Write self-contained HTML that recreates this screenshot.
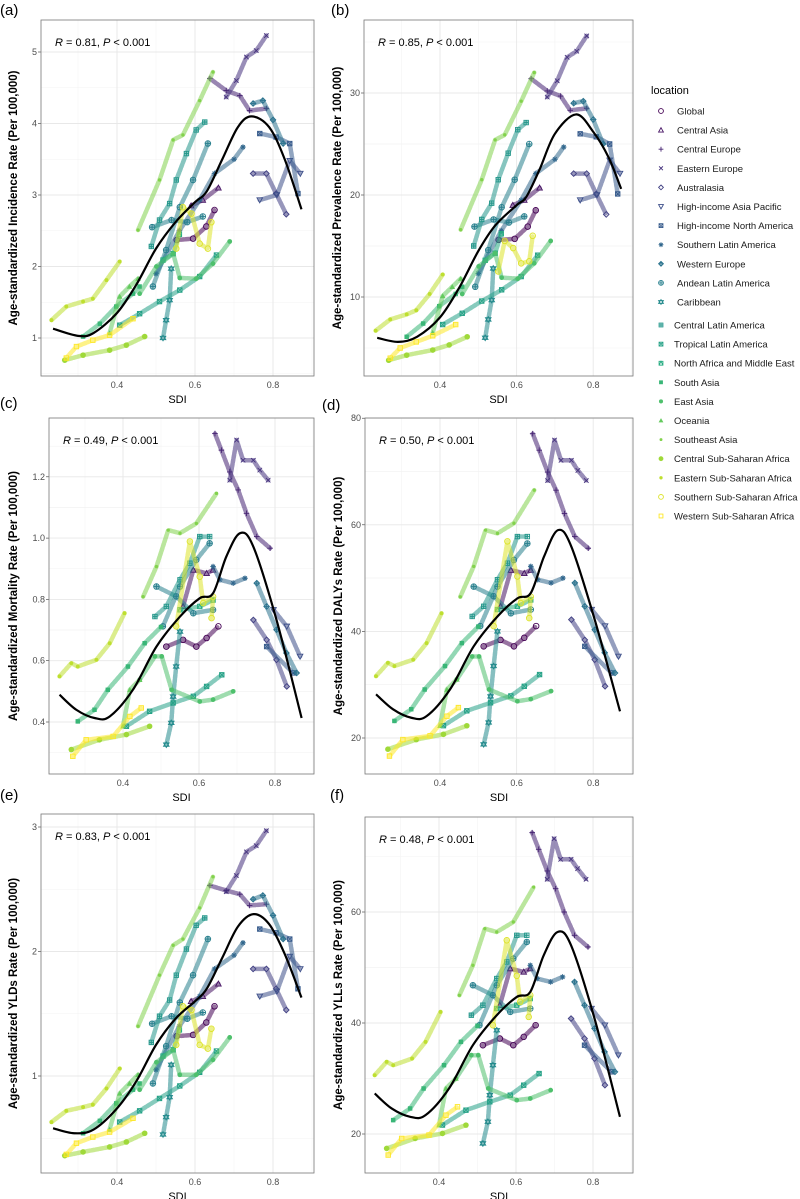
<!DOCTYPE html>
<html><head><meta charset="utf-8"><style>
body{margin:0;background:#fff;}
svg{display:block;font-family:"Liberation Sans",sans-serif;}
</style></head><body>
<svg id="chart" width="800" height="1199" viewBox="0 0 800 1199" xmlns="http://www.w3.org/2000/svg"></svg>
<script>
const locations=["Global","Central Asia","Central Europe","Eastern Europe","Australasia","High-income Asia Pacific","High-income North America","Southern Latin America","Western Europe","Andean Latin America","Caribbean","Central Latin America","Tropical Latin America","North Africa and Middle East","South Asia","East Asia","Oceania","Southeast Asia","Central Sub-Saharan Africa","Eastern Sub-Saharan Africa","Southern Sub-Saharan Africa","Western Sub-Saharan Africa"];
const xTicks=[0.4,0.6,0.8];
const aTicks=[1,2,3,4,5], bTicks=[10,20,30], cTicks=[0.4,0.6,0.8,1.0,1.2], dTicks=[20,40,60,80], eTicks=[1,2,3], fTicks=[20,40,60];
const aStats="0.81", bStats="0.85", cStats="0.49", dStats="0.50", eStats="0.83", fStats="0.48";
const aSeries=[[0,[.553,2.37,.595,2.39,.629,2.56,.65,2.79]],[1,[.59,2.85,.62,2.93,.66,3.1]],[2,[.638,4.63,.68,4.46,.715,4.39,.74,4.18,.783,4.21]],[3,[.68,4.37,.706,4.6,.732,4.93,.757,5.02,.783,5.23]],[4,[.749,3.3,.783,3.3,.808,3.02,.834,2.73]],[5,[.766,2.93,.81,3.0,.843,3.48,.87,3.3]],[6,[.766,3.86,.808,3.81,.843,3.72,.864,3.02]],[7,[.50,1.9,.56,2.5,.612,2.93,.65,3.3,.70,3.5,.723,3.67]],[8,[.749,4.28,.774,4.32,.80,4.05,.826,3.72]],[9,[.492,1.72,.526,2.23,.561,2.83,.595,3.21,.633,3.72]],[9,[.49,2.55,.54,2.65,.58,2.62,.62,2.7]],[10,[.518,1.0,.526,1.25,.535,1.53,.539,1.97]],[11,[.488,2.28,.509,2.65,.535,2.88,.552,3.21,.578,3.58,.603,3.91,.625,4.02]],[12,[.407,1.18,.458,1.34,.509,1.51,.561,1.67,.612,1.86,.655,2.16]],[13,[.518,2.09,.544,2.18,.56,2.45]],[14,[.313,1.02,.356,1.20,.398,1.44,.441,1.62,.458,1.72]],[15,[.458,1.62,.501,2.00,.544,2.18,.561,1.84,.603,1.83,.646,2.04,.689,2.35]],[16,[.381,1.07,.407,1.58,.432,1.72,.454,1.83]],[17,[.454,2.51,.509,3.21,.544,3.77,.569,3.84,.612,4.32,.646,4.72]],[18,[.266,.69,.313,.76,.381,.83,.424,.90,.471,1.02]],[19,[.232,1.25,.270,1.44,.313,1.51,.338,1.55,.373,1.81,.407,2.07]],[20,[.552,2.25,.569,2.83,.591,2.74,.612,2.32,.633,2.25,.642,2.62]],[21,[.27,.72,.296,.88,.338,.97,.381,1.04,.441,1.27]]];
const aCurve=[.236,1.13,.30,1.03,.34,1.07,.40,1.35,.45,1.75,.50,2.25,.55,2.62,.60,2.9,.63,3.05,.67,3.5,.71,3.95,.745,4.1,.79,3.95,.83,3.5,.873,2.8];
const bSeries=[[0,[.553,15.6,.595,15.7,.629,16.9,.65,18.5]],[1,[.59,19.0,.62,19.5,.66,20.7]],[2,[.638,31.4,.68,30.2,.715,29.7,.74,28.3,.783,28.5]],[3,[.68,29.6,.706,31.2,.732,33.5,.757,34.1,.783,35.6]],[4,[.749,22.1,.783,22.1,.808,20.1,.834,18.1]],[5,[.766,19.5,.81,20.0,.843,23.4,.87,22.1]],[6,[.766,26.0,.808,25.7,.843,25.0,.864,20.1]],[7,[.50,12.3,.56,16.5,.612,19.5,.65,22.1,.70,23.5,.723,24.7]],[8,[.749,29.0,.774,29.2,.80,27.4,.826,25.0]],[9,[.492,11.0,.526,14.6,.561,18.8,.595,21.5,.633,25.0]],[9,[.49,16.9,.54,17.6,.58,17.3,.62,17.9]],[10,[.518,6.0,.526,7.8,.535,9.7,.539,12.8]],[11,[.488,15.0,.509,17.6,.535,19.2,.552,21.5,.578,24.1,.603,26.4,.625,27.1]],[12,[.407,7.3,.458,8.4,.509,9.6,.561,10.7,.612,12.0,.655,14.1]],[13,[.518,13.6,.544,14.3,.56,16.2]],[14,[.313,6.1,.356,7.4,.398,9.1,.441,10.3,.458,11.0]],[15,[.458,10.3,.501,13.0,.544,14.3,.561,11.9,.603,11.8,.646,13.3,.689,15.5]],[16,[.381,6.5,.407,10.1,.432,11.0,.454,11.8]],[17,[.454,16.6,.509,21.5,.544,25.4,.569,25.9,.612,29.2,.646,32.0]],[18,[.266,3.8,.313,4.3,.381,4.8,.424,5.3,.471,6.1]],[19,[.232,6.7,.270,7.8,.313,8.3,.338,8.7,.373,10.3,.407,12.2]],[20,[.552,12.5,.569,15.5,.591,14.8,.612,13.3,.633,13.5,.642,16.0]],[21,[.27,4.0,.296,5.0,.338,5.6,.381,6.2,.441,7.3]]];
const bCurve=[.236,6.0,.29,5.6,.34,6.1,.40,8.0,.45,10.9,.50,14.5,.544,17.0,.60,19.0,.625,19.8,.66,22.5,.70,26.0,.755,27.9,.80,26.2,.84,23.7,.873,20.6];
const cSeries=[[0,[.514,.646,.558,.668,.593,.646,.62,.674,.651,.712]],[1,[.558,.777,.585,.896,.62,.885,.637,.896]],[2,[.642,1.341,.659,1.287,.681,1.216,.703,1.157,.725,1.081,.752,1.005,.787,.967]],[3,[.681,1.189,.699,1.32,.716,1.254,.743,1.254,.76,1.222,.782,1.189]],[4,[.743,.733,.778,.668,.804,.603,.831,.516]],[5,[.796,.766,.831,.712,.866,.614]],[6,[.778,.646,.848,.56]],[7,[.637,.907,.655,.864,.69,.853,.721,.869]],[8,[.752,.853,.778,.777,.804,.701,.83,.625,.857,.56]],[9,[.505,.712,.55,.842,.593,.929,.628,.983]],[9,[.488,.842,.54,.81,.585,.755,.637,.766]],[10,[.514,.326,.527,.397,.532,.483,.54,.581,.55,.695]],[11,[.484,.744,.514,.777,.55,.864,.576,.918,.602,1.005,.628,1.005]],[12,[.409,.386,.47,.435,.532,.462,.585,.484,.62,.516,.66,.554]],[13,[.55,.766,.602,.777,.637,.798]],[14,[.281,.402,.325,.44,.36,.505,.413,.581,.457,.657,.50,.71]],[15,[.444,.538,.484,.614,.502,.614,.528,.505,.602,.467,.637,.473,.69,.5]],[16,[.40,.386,.418,.505,.444,.538]],[17,[.453,.809,.488,.907,.519,1.026,.55,1.016,.593,1.048,.646,1.146]],[18,[.264,.31,.338,.342,.409,.359,.47,.386]],[19,[.233,.549,.264,.592,.281,.581,.33,.603,.365,.657,.404,.755]],[20,[.54,.712,.576,.989,.602,.874,.611,.788,.637,.809,.633,.739]],[21,[.268,.288,.303,.342,.374,.353,.418,.418,.448,.446]]];
const cCurve=[.233,.489,.277,.44,.325,.413,.365,.418,.426,.505,.488,.646,.55,.744,.602,.804,.637,.82,.672,.94,.708,1.016,.743,.972,.804,.733,.87,.413];
const dSeries=[[0,[.514,37.2,.558,38.4,.593,37.2,.62,38.8,.651,41.0]],[1,[.558,44.7,.585,51.5,.62,50.9,.637,51.5]],[2,[.642,77.1,.659,74.0,.681,69.9,.703,66.5,.725,62.1,.752,57.8,.787,55.6]],[3,[.681,68.3,.699,75.9,.716,72.1,.743,72.1,.76,70.2,.782,68.3]],[4,[.743,42.2,.778,38.4,.804,34.7,.831,29.7]],[5,[.796,44.1,.831,41.0,.866,35.3]],[6,[.778,37.2,.848,32.2]],[7,[.637,52.2,.655,49.7,.69,49.1,.721,50.0]],[8,[.752,49.1,.778,44.7,.804,40.3,.83,36.0,.857,32.2]],[9,[.505,41.0,.55,48.4,.593,53.4,.628,56.5]],[9,[.488,48.4,.54,46.6,.585,43.4,.637,44.1]],[10,[.514,18.8,.527,22.9,.532,27.8,.54,33.5,.55,40.0]],[11,[.484,42.8,.514,44.7,.55,49.7,.576,52.8,.602,57.8,.628,57.8]],[12,[.409,22.3,.47,25.1,.532,26.6,.585,27.9,.62,29.7,.66,31.9]],[13,[.55,44.1,.602,44.7,.637,45.9]],[14,[.281,23.2,.325,25.4,.36,29.1,.413,33.5,.457,37.8,.50,40.9]],[15,[.444,31.0,.484,35.3,.502,35.3,.528,29.1,.602,26.9,.637,27.3,.69,28.8]],[16,[.40,22.3,.418,29.1,.444,31.0]],[17,[.453,46.5,.488,52.2,.519,59.0,.55,58.4,.593,60.3,.646,66.5]],[18,[.264,17.9,.338,19.7,.409,20.7,.47,22.3]],[19,[.233,31.6,.264,34.1,.281,33.5,.33,34.7,.365,37.8,.404,43.4]],[20,[.54,41.0,.576,56.9,.602,50.3,.611,45.3,.637,46.5,.633,42.5]],[21,[.268,16.6,.303,19.7,.374,20.4,.418,24.1,.448,25.7]]];
const dCurve=[.233,28.2,.277,25.4,.325,23.8,.365,24.1,.426,29.1,.488,37.2,.55,42.8,.602,46.2,.637,47.2,.672,54.1,.708,59.0,.743,55.9,.804,42.2,.87,25.0];
const eSeries=[[0,[.553,1.32,.595,1.33,.629,1.43,.65,1.56]],[1,[.59,1.6,.62,1.64,.66,1.74]],[2,[.638,2.53,.68,2.49,.715,2.46,.74,2.37,.783,2.38]],[3,[.68,2.48,.706,2.61,.732,2.80,.757,2.85,.783,2.97]],[4,[.749,1.86,.783,1.86,.808,1.70,.834,1.53]],[5,[.766,1.64,.81,1.68,.843,1.96,.87,1.86]],[6,[.766,2.18,.808,2.15,.843,2.10,.864,1.70]],[7,[.50,1.05,.56,1.4,.612,1.64,.65,1.86,.70,1.97,.723,2.07]],[8,[.749,2.42,.774,2.45,.80,2.29,.826,2.10]],[9,[.492,.94,.526,1.24,.561,1.59,.595,1.81,.633,2.10]],[9,[.49,1.42,.54,1.48,.58,1.46,.62,1.51]],[10,[.518,.53,.526,.67,.535,.83,.539,1.09]],[11,[.488,1.27,.509,1.48,.535,1.61,.552,1.81,.578,2.02,.603,2.21,.625,2.27]],[12,[.407,.63,.458,.72,.509,.82,.561,.92,.612,1.03,.655,1.20]],[13,[.518,1.16,.544,1.21,.56,1.37]],[14,[.313,.54,.356,.64,.398,.78,.441,.89,.458,.94]],[15,[.458,.89,.501,1.11,.544,1.21,.561,1.01,.603,1.01,.646,1.13,.689,1.31]],[16,[.381,.57,.407,.86,.432,.94,.454,1.01]],[17,[.454,1.40,.509,1.81,.544,2.05,.569,2.10,.612,2.35,.646,2.6]],[18,[.266,.36,.313,.39,.381,.43,.424,.47,.471,.54]],[19,[.232,.63,.27,.72,.313,.75,.338,.77,.373,.9,.407,1.06]],[20,[.552,1.25,.569,1.56,.591,1.53,.612,1.25,.633,1.22,.642,1.38]],[21,[.27,.37,.296,.46,.338,.51,.381,.55,.441,.66]]];
const eCurve=[.236,.58,.29,.54,.34,.57,.40,.74,.45,.96,.50,1.25,.55,1.46,.60,1.6,.63,1.7,.67,1.95,.71,2.2,.75,2.3,.79,2.22,.83,1.98,.873,1.63];
const fSeries=[[0,[.514,36.0,.558,37.2,.593,36.0,.62,37.5,.651,39.6]],[1,[.558,43.2,.585,49.8,.62,49.2,.637,49.8]],[2,[.642,74.3,.659,71.3,.681,67.4,.703,64.2,.725,60.0,.752,55.8,.787,53.7]],[3,[.681,65.9,.699,73.2,.716,69.5,.743,69.5,.76,67.8,.782,65.9]],[4,[.743,40.8,.778,37.2,.804,33.6,.831,28.8]],[5,[.796,42.6,.831,39.6,.866,34.2]],[6,[.778,36.0,.848,31.2]],[7,[.637,50.4,.655,48.0,.69,47.4,.721,48.3]],[8,[.752,47.4,.778,43.2,.804,39.0,.83,34.8,.857,31.2]],[9,[.505,39.6,.55,46.8,.593,51.6,.628,54.6]],[9,[.488,46.8,.54,45.0,.585,42.0,.637,42.6]],[10,[.514,18.3,.527,22.2,.532,27.0,.54,32.4,.55,38.7]],[11,[.484,41.4,.514,43.2,.55,48.0,.576,51.0,.602,55.8,.628,55.8]],[12,[.409,21.6,.47,24.3,.532,25.8,.585,27.0,.62,28.8,.66,30.9]],[13,[.55,42.6,.602,43.2,.637,44.4]],[14,[.281,22.5,.325,24.6,.36,28.2,.413,32.4,.457,36.6,.50,39.5]],[15,[.444,30.0,.484,34.2,.502,34.2,.528,28.2,.602,26.1,.637,26.4,.69,27.9]],[16,[.40,21.6,.418,28.2,.444,30.0]],[17,[.453,45.0,.488,50.4,.519,57.0,.55,56.4,.593,58.2,.646,64.5]],[18,[.264,17.4,.338,19.2,.409,20.1,.47,21.6]],[19,[.233,30.6,.264,33.0,.281,32.4,.33,33.6,.365,36.6,.404,42.0]],[20,[.54,39.6,.576,54.9,.602,48.5,.611,43.8,.637,45.0,.633,41.1]],[21,[.268,16.2,.303,19.2,.374,19.8,.418,23.4,.448,24.9]]];
const fCurve=[.233,27.3,.277,24.6,.325,23.1,.365,23.4,.426,28.2,.488,36.0,.55,41.4,.602,44.7,.637,45.6,.672,52.2,.708,56.4,.743,54.0,.804,40.8,.87,23.1];

const NS="http://www.w3.org/2000/svg";
const svg=document.getElementById('chart');
function mk(tag,attrs,parent){const e=document.createElementNS(NS,tag);for(const k in attrs)e.setAttribute(k,attrs[k]);(parent||svg).appendChild(e);return e;}
const stops=["#440154","#472D7B","#3B528B","#2C728E","#21908C","#27AD81","#5DC863","#AADC32","#FDE725"];
function hex(h){return [1,3,5].map(i=>parseInt(h.substr(i,2),16));}
function colorAt(i){const t=i/21*(stops.length-1);const k=Math.min(Math.floor(t),stops.length-2);const f=t-k;const a=hex(stops[k]),b=hex(stops[k+1]);return 'rgb('+a.map((v,j)=>Math.round(v+(b[j]-v)*f)).join(',')+')';}
function smoothPath(P){let d='M'+P[0][0]+','+P[0][1];for(let i=0;i<P.length-1;i++){const p0=P[i-1]||P[i],p1=P[i],p2=P[i+1],p3=P[i+2]||P[i+1];d+=' C'+(p1[0]+(p2[0]-p0[0])/6)+','+(p1[1]+(p2[1]-p0[1])/6)+' '+(p2[0]-(p3[0]-p1[0])/6)+','+(p2[1]-(p3[1]-p1[1])/6)+' '+p2[0]+','+p2[1];}return d;}
function shape(g,t,x,y,c,r){
  r=r||2.8;const s=r,o={stroke:c,fill:'none','stroke-width':0.9};let el;
  const P=d=>mk('path',Object.assign({d:d},o),g);
  switch(t){
  case 0:case 20:el=mk('circle',Object.assign({cx:x,cy:y,r:s},o),g);break;
  case 1:el=P(`M${x},${y-s}L${x+s},${y+s*.8}L${x-s},${y+s*.8}Z`);break;
  case 2:el=P(`M${x-s},${y}H${x+s}M${x},${y-s}V${y+s}`);break;
  case 3:el=P(`M${x-s*.8},${y-s*.8}L${x+s*.8},${y+s*.8}M${x-s*.8},${y+s*.8}L${x+s*.8},${y-s*.8}`);break;
  case 4:el=P(`M${x},${y-s}L${x+s},${y}L${x},${y+s}L${x-s},${y}Z`);break;
  case 5:el=P(`M${x},${y+s}L${x+s},${y-s*.8}L${x-s},${y-s*.8}Z`);break;
  case 6:case 12:el=P(`M${x-s*.8},${y-s*.8}h${s*1.6}v${s*1.6}h${-s*1.6}ZM${x-s*.8},${y-s*.8}L${x+s*.8},${y+s*.8}M${x-s*.8},${y+s*.8}L${x+s*.8},${y-s*.8}`);break;
  case 7:el=P(`M${x-s},${y}H${x+s}M${x},${y-s}V${y+s}M${x-s*.7},${y-s*.7}L${x+s*.7},${y+s*.7}M${x-s*.7},${y+s*.7}L${x+s*.7},${y-s*.7}`);break;
  case 8:el=P(`M${x},${y-s}L${x+s},${y}L${x},${y+s}L${x-s},${y}ZM${x-s},${y}H${x+s}M${x},${y-s}V${y+s}`);break;
  case 9:el=P(`M${x-s},${y}a${s},${s} 0 1,0 ${2*s},0a${s},${s} 0 1,0 ${-2*s},0M${x-s},${y}H${x+s}M${x},${y-s}V${y+s}`);break;
  case 10:el=P(`M${x},${y-s}L${x+s},${y+s*.6}L${x-s},${y+s*.6}ZM${x},${y+s}L${x+s},${y-s*.6}L${x-s},${y-s*.6}Z`);break;
  case 11:el=P(`M${x-s*.8},${y-s*.8}h${s*1.6}v${s*1.6}h${-s*1.6}ZM${x-s*.8},${y}H${x+s*.8}M${x},${y-s*.8}V${y+s*.8}`);break;
  case 13:el=P(`M${x-s*.8},${y-s*.8}h${s*1.6}v${s*1.6}h${-s*1.6}ZM${x-s*.8},${y+s*.8}L${x},${y-s*.8}L${x+s*.8},${y+s*.8}`);break;
  case 14:el=mk('rect',{x:x-s*.8,y:y-s*.8,width:s*1.6,height:s*1.6,fill:c},g);break;
  case 15:el=mk('circle',{cx:x,cy:y,r:s*.85,fill:c},g);break;
  case 16:el=mk('path',{d:`M${x},${y-s}L${x+s},${y+s*.8}L${x-s},${y+s*.8}Z`,fill:c},g);break;
  case 17:el=mk('circle',{cx:x,cy:y,r:s*.6,fill:c},g);break;
  case 18:el=mk('circle',{cx:x,cy:y,r:s,fill:c},g);break;
  case 19:el=mk('circle',{cx:x,cy:y,r:s*.7,fill:c},g);break;
  case 21:el=P(`M${x-s*.8},${y-s*.8}h${s*1.6}v${s*1.6}h${-s*1.6}Z`);break;
  }
  return el;
}
const panels=[
 {id:'a',letter:'(a)',lx:0,ly:15,box:[41,20,314,376],x0:117,xk:390,yv:1,y0:338,yk:71.5,ticks:aTicks,fmt:v=>String(v),minor:0.5,series:aSeries,curve:aCurve,stat:aStats,title:'Age-standardized Incidence Rate (Per 100,000)',tx:13},
 {id:'b',letter:'(b)',lx:331,ly:15,box:[364,20,633,376],x0:440,xk:383,yv:10,y0:297,yk:10.2,ticks:bTicks,fmt:v=>String(v),minor:5,series:bSeries,curve:bCurve,stat:bStats,title:'Age-standardized Prevalence Rate (Per 100,000)',tx:337},
 {id:'c',letter:'(c)',lx:0,ly:408,box:[49,418,314,774],x0:123,xk:380,yv:0.4,y0:722,yk:306.5,ticks:cTicks,fmt:v=>v.toFixed(1),minor:0.1,series:cSeries,curve:cCurve,stat:cStats,title:'Age-standardized Mortality Rate (Per 100,000)',tx:13},
 {id:'d',letter:'(d)',lx:322,ly:410,box:[365,418,633,774],x0:440,xk:383,yv:20,y0:738,yk:5.33,ticks:dTicks,fmt:v=>String(v),minor:10,series:dSeries,curve:dCurve,stat:dStats,title:'Age-standardized DALYs Rate (Per 100,000)',tx:338},
 {id:'e',letter:'(e)',lx:0,ly:800,box:[41,814,314,1173],x0:117,xk:390,yv:1,y0:1076,yk:124.5,ticks:eTicks,fmt:v=>String(v),minor:0.5,series:eSeries,curve:eCurve,stat:eStats,title:'Age-standardized YLDs Rate (Per 100,000)',tx:13},
 {id:'f',letter:'(f)',lx:330,ly:800,box:[365,817,633,1173],x0:439,xk:385,yv:20,y0:1134,yk:5.55,ticks:fTicks,fmt:v=>String(v),minor:10,series:fSeries,curve:fCurve,stat:fStats,title:'Age-standardized YLLs Rate (Per 100,000)',tx:338}
];
panels.forEach(p=>{
  const [L,T,R,B]=p.box;
  const X=v=>p.x0+(v-0.4)*p.xk, Y=v=>p.y0-(v-p.yv)*p.yk;
  const g=mk('g',{});
  
  
  const lab=mk('text',{x:p.lx,y:p.ly,'font-size':15,fill:'#000'},g);lab.textContent=p.letter;
  
  
  mk('rect',{x:L,y:T,width:R-L,height:B-T,fill:'#fff'},g);
  const grid=mk('g',{},g);
  
  
  for(let v=0.3;v<0.95;v+=0.2){const x=X(v);if(x>L&&x<R)mk('line',{x1:x,x2:x,y1:T,y2:B,stroke:'#f3f3f3','stroke-width':0.6},grid);}
  p.ticks.forEach(v=>{[v-p.minor,v+p.minor].forEach(m=>{const y=Y(m);if(y>T&&y<B)mk('line',{x1:L,x2:R,y1:y,y2:y,stroke:'#f3f3f3','stroke-width':0.6},grid);});});
  xTicks.forEach(v=>{const x=X(v);mk('line',{x1:x,x2:x,y1:T,y2:B,stroke:'#e8e8e8','stroke-width':0.9},grid);
    const t=mk('text',{x:x,y:B+12,'font-size':9,fill:'#4d4d4d','text-anchor':'middle'},g);t.textContent=v.toFixed(1);
    
    });
  p.ticks.forEach(v=>{const y=Y(v);mk('line',{x1:L,x2:R,y1:y,y2:y,stroke:'#e8e8e8','stroke-width':0.9},grid);
    mk('line',{x1:L-3,x2:L,y1:y,y2:y,stroke:'#333','stroke-width':0.6},g);
    const t=mk('text',{x:L-4,y:y+3,'font-size':9,fill:'#4d4d4d','text-anchor':'end'},g);t.textContent=p.fmt(v);
    
    });
  const clipId='clip'+p.id;
  const cp=mk('clipPath',{id:clipId},g);mk('rect',{x:L,y:T,width:R-L,height:B-T},cp);
  const sg=mk('g',{'clip-path':`url(#${clipId})`},g);
  p.series.forEach(([ci,arr])=>{
    const c=colorAt(ci);
    const s=mk('g',{},sg);
    
    
    let pts=[];for(let i=0;i<arr.length;i+=2)pts.push(X(arr[i])+','+Y(arr[i+1]));
    mk('polyline',{points:pts.join(' '),fill:'none',stroke:c,'stroke-width':4.5,'stroke-opacity':0.55,'stroke-linejoin':'round','stroke-linecap':'round','stroke-dasharray':'3 1.5'},s);
    for(let i=0;i<arr.length;i+=2){const m=shape(s,ci,X(arr[i]),Y(arr[i+1]),c);
      
      }
  });
  const cpts=[];for(let i=0;i<p.curve.length;i+=2)cpts.push([X(p.curve[i]),Y(p.curve[i+1])]);
  const cv=mk('path',{d:smoothPath(cpts),fill:'none',stroke:'#000','stroke-width':2.2,'stroke-linejoin':'round'},sg);
  
  
  mk('rect',{x:L,y:T,width:R-L,height:B-T,fill:'none',stroke:'#777','stroke-width':0.8},g);
  const st=mk('text',{x:L+14,y:T+26,'font-size':11,fill:'#000'},g);
  st.innerHTML='<tspan font-style="italic">R</tspan> = '+p.stat+', <tspan font-style="italic">P</tspan> &lt; 0.001';
  
  
  const xt=mk('text',{x:(L+R)/2,y:B+27,'font-size':11,fill:'#000','text-anchor':'middle'},g);xt.textContent='SDI';
  
  
  const cy=(T+B)/2;
  const yt=mk('text',{x:p.tx,y:cy,'font-size':11.5,'font-weight':'bold',fill:'#000','text-anchor':'middle',transform:`rotate(-90 ${p.tx} ${cy})`,dy:4},g);yt.textContent=p.title;
  
  
});
const lg=mk('g',{});


const lt=mk('text',{x:651,y:94,'font-size':11,fill:'#000'},lg);lt.textContent='location';


locations.forEach((n,i)=>{
  const y=i<11?111+i*19.1:325+(i-11)*19.1;
  const e=mk('g',{},lg);
  
  
  shape(e,i,661,y,colorAt(i),2.4);
  const t=mk('text',{x:i<11?677:674,y:y+3.5,'font-size':9.5,fill:'#1a1a1a'},e);t.textContent=n;
});
</script>
</body></html>
